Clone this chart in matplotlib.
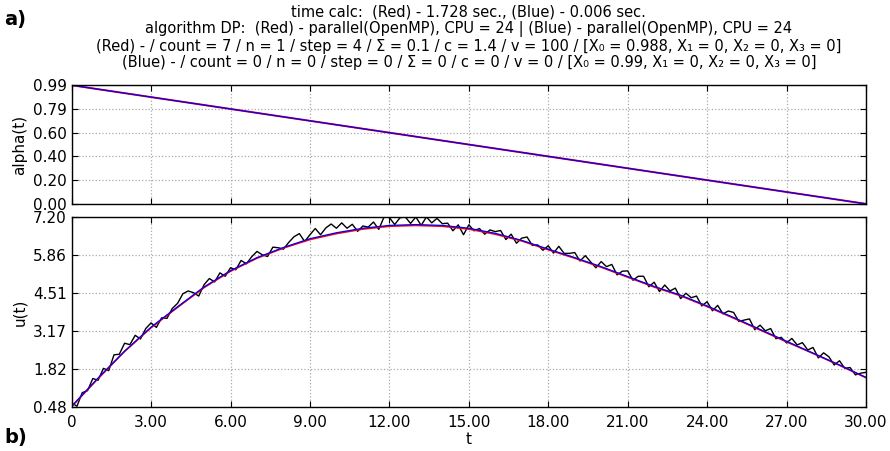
import matplotlib.pyplot as plt
import numpy as np

# alpha(t), top panel
alpha_t = [0.0, 30.0]
alpha_red = [0.99, 0.0]
alpha_blue = [0.99, 0.0]

# u(t), smooth solutions (red / blue), read at integer t
u_t = list(range(0, 31))
u_red = [0.49, 1.48, 2.44, 3.28, 4.00, 4.70, 5.28, 5.74, 6.10, 6.40, 6.61, 6.77, 6.87, 6.90,
         6.87, 6.77, 6.59, 6.35, 6.04, 5.74, 5.42, 5.07, 4.72, 4.41, 4.03, 3.62, 3.20, 2.78,
         2.37, 1.95, 1.51]
u_blue = [0.50, 1.50, 2.45, 3.30, 4.02, 4.72, 5.30, 5.76, 6.12, 6.43, 6.64, 6.80, 6.90, 6.93,
          6.90, 6.80, 6.62, 6.37, 6.06, 5.76, 5.44, 5.09, 4.74, 4.43, 4.05, 3.64, 3.22, 2.80,
          2.38, 1.96, 1.52]

# noisy u(t) (black), read every 0.2
noisy_t = [round(0.2 * i, 1) for i in range(151)]
noisy_u = [
    0.62, 0.50, 0.98, 1.05, 1.48,
    1.42, 1.84, 1.76, 2.32, 2.34,
    2.73, 2.68, 3.01, 2.88, 3.25,
    3.45, 3.29, 3.63, 3.61, 3.96,
    4.14, 4.48, 4.58, 4.52, 4.40,
    4.80, 5.02, 4.90, 5.22, 5.10,
    5.40, 5.33, 5.66, 5.54, 5.79,
    5.98, 5.86, 5.80, 6.13, 6.11,
    6.06, 6.30, 6.50, 6.61, 6.33,
    6.57, 6.79, 6.57, 6.81, 6.95,
    6.80, 6.99, 6.80, 6.94, 6.69,
    6.88, 6.84, 7.02, 6.76, 7.20,
    7.18, 6.93, 7.17, 7.20, 6.97,
    7.20, 6.90, 7.20, 6.99, 7.15,
    6.96, 6.98, 6.71, 6.92, 6.57,
    6.92, 6.71, 6.79, 6.59, 6.74,
    6.68, 6.72, 6.40, 6.59, 6.27,
    6.45, 6.49, 6.19, 6.21, 6.02,
    6.18, 5.92, 6.16, 5.91, 5.91,
    5.94, 5.64, 5.83, 5.61, 5.40,
    5.62, 5.44, 5.52, 5.15, 5.28,
    5.29, 4.96, 5.10, 5.10, 4.73,
    4.89, 4.56, 4.79, 4.58, 4.68,
    4.31, 4.50, 4.34, 4.40, 4.05,
    4.20, 3.88, 4.07, 3.77, 3.87,
    3.82, 3.50, 3.55, 3.59, 3.21,
    3.37, 3.17, 3.25, 2.89, 2.94,
    2.74, 2.90, 2.67, 2.75, 2.49,
    2.58, 2.21, 2.39, 2.25, 1.96,
    2.11, 1.84, 1.87, 1.61, 1.67,
    1.70,
]

x_ticks = [0, 3, 6, 9, 12, 15, 18, 21, 24, 27, 30]
x_labels = ["0", "3.00", "6.00", "9.00", "12.00", "15.00", "18.00", "21.00", "24.00", "27.00", "30.00"]
alpha_ticks = [0.0, 0.198, 0.396, 0.594, 0.792, 0.99]
alpha_labels = ["0.00", "0.20", "0.40", "0.60", "0.79", "0.99"]
u_ticks = [0.48, 1.824, 3.168, 4.512, 5.856, 7.20]
u_labels = ["0.48", "1.82", "3.17", "4.51", "5.86", "7.20"]

title = ("time calc:  (Red) - 1.728 sec., (Blue) - 0.006 sec.\n"
         "algorithm DP:  (Red) - parallel(OpenMP), CPU = 24 | (Blue) - parallel(OpenMP), CPU = 24\n"
         "(Red) - / count = 7 / n = 1 / step = 4 / \u03a3 = 0.1 / c = 1.4 / v = 100 / "
         "[X\u2080 = 0.988, X\u2081 = 0, X\u2082 = 0, X\u2083 = 0]\n"
         "(Blue) - / count = 0 / n = 0 / step = 0 / \u03a3 = 0 / c = 0 / v = 0 / "
         "[X\u2080 = 0.99, X\u2081 = 0, X\u2082 = 0, X\u2083 = 0]")

plt.rcParams['font.family'] = 'DejaVu Sans'

fig = plt.figure(figsize=(8.9, 4.51), dpi=100)
ax1 = fig.add_axes([0.0805, 0.548, 0.8925, 0.263])
ax2 = fig.add_axes([0.0805, 0.098, 0.8925, 0.421])

ax1.plot(alpha_t, alpha_red, color='red', lw=1.4)
ax1.plot(alpha_t, alpha_blue, color='blue', lw=0.9)

ax2.plot(noisy_t, noisy_u, color='black', lw=1.0)
ax2.plot(u_t, u_red, color='red', lw=1.2)
ax2.plot(u_t, u_blue, color='blue', lw=0.9)

for ax in (ax1, ax2):
    ax.set_xlim(0, 30)
    ax.set_xticks(x_ticks)
    ax.grid(True, color='#aaaaaa', linestyle=':', lw=0.9)
    ax.tick_params(direction='in', top=True, right=True, labelsize=11, length=4)
    for s in ax.spines.values():
        s.set_linewidth(1.0)

ax1.set_xticklabels([])
ax1.set_ylim(0, 0.99)
ax1.set_yticks(alpha_ticks)
ax1.set_yticklabels(alpha_labels)
ax1.set_ylabel("alpha(t)", fontsize=11)

ax2.set_xticklabels(x_labels)
ax2.tick_params(axis='x', pad=6)
ax2.set_ylim(0.48, 7.20)
ax2.set_yticks(u_ticks)
ax2.set_yticklabels(u_labels)
ax2.set_ylabel("u(t)", fontsize=11)
ax2.set_xlabel("t", fontsize=11, labelpad=1)

ax1.set_title(title, fontsize=10.5, linespacing=1.12, pad=13)
fig.text(0.005, 0.945, "a)", fontsize=14, fontweight='bold')
fig.text(0.005, 0.018, "b)", fontsize=14, fontweight='bold')
fig.align_ylabels([ax1, ax2])

fig.savefig("out.png", dpi=100)
